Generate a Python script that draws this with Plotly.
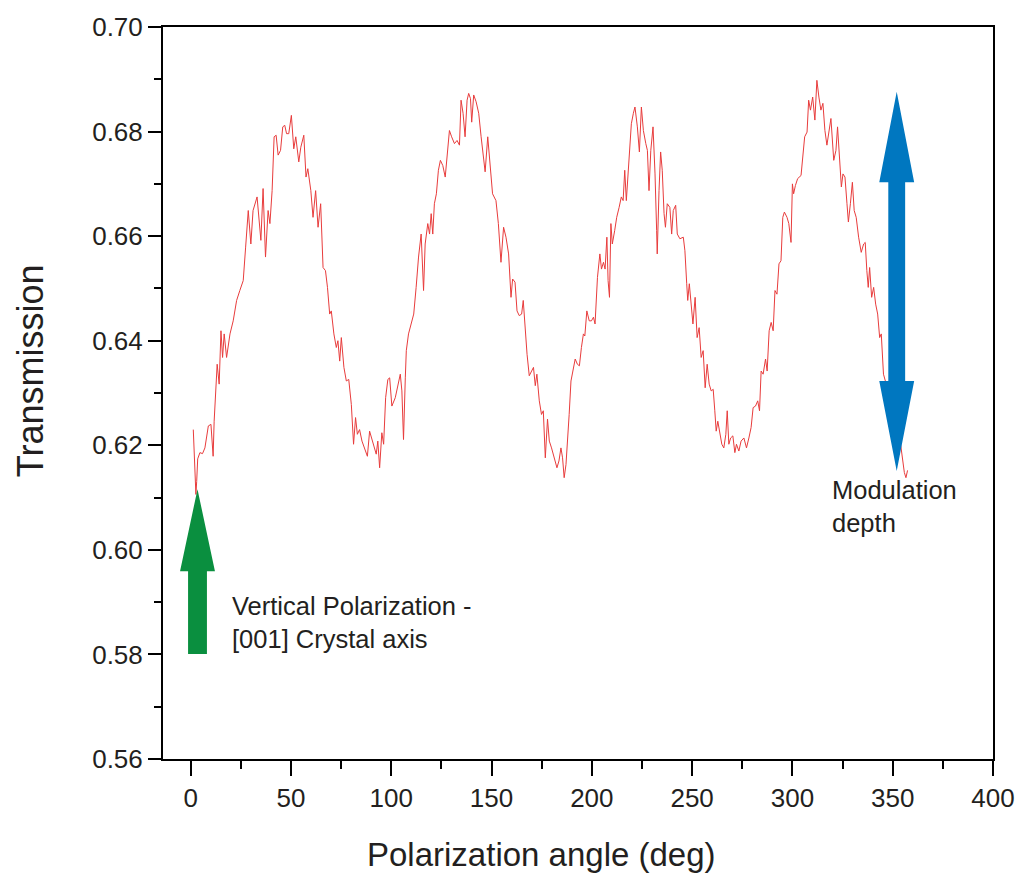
import plotly.graph_objects as go

# values
angle = [
    1.3, 1.9, 2.6, 3.0, 3.5, 4.6, 5.9, 7.1, 8.8, 10.1, 11.2, 11.7, 12.4, 13.2, 14.2,
    15.1, 15.9, 16.7, 17.9, 19.6, 21.2, 22.9, 24.5, 26.2, 27.4, 28.7, 30.0, 31.1,
    33.1, 35.0, 36.1, 37.3, 38.6, 39.5, 40.6, 41.6, 42.6, 43.6, 44.8, 45.9, 46.9,
    47.8, 48.9, 50.2, 51.4, 52.4, 53.9, 54.9, 56.4, 57.5, 58.4, 59.9,
    61.0, 62.3, 63.5, 64.8, 66.0, 67.2, 68.2, 69.3, 70.1, 71.4, 72.6, 73.4, 74.3,
    75.1, 76.4, 77.6, 78.8, 80.1, 81.2, 82.2, 83.1, 84.2, 85.4, 86.7, 88.1, 89.2,
    90.5, 91.7, 92.5, 93.3, 94.2, 95.3, 96.2, 97.2, 98.3, 99.2, 100.3, 102.0,
    103.3, 104.5, 105.3, 106.1, 107.0, 107.5, 108.6, 110.0, 111.2, 112.4, 113.6,
    114.9, 116.1, 116.9, 118.2, 119.1,
    119.9, 120.7, 121.5, 122.5, 123.5, 124.5, 125.7, 126.9, 127.9, 129.0, 130.1,
    131.5, 132.8, 134.0, 134.8, 135.8, 136.8, 137.8, 138.6, 139.5, 140.1, 141.1,
    142.3, 143.6, 144.8, 145.9, 146.8, 148.1, 149.3, 150.5, 152.2, 153.4, 154.7,
    156.0, 157.2, 158.5, 159.7, 160.5, 161.7, 162.7, 163.8, 165.0, 165.8, 166.7,
    167.7, 168.8, 170.0, 170.9, 171.8, 172.6, 173.8, 174.9, 175.8, 176.8, 177.9,
    178.8,
    179.9, 181.2, 182.6, 183.6, 184.6, 185.4, 186.2, 187.1, 187.9, 188.7, 189.6,
    190.3, 191.7, 192.8, 193.8, 194.8, 195.8, 196.5, 197.5, 198.7, 199.8, 200.8,
    201.6, 202.8, 204.0, 204.8, 205.8, 206.6, 207.5, 208.1, 208.8, 209.5, 210.2,
    211.4, 212.4, 213.6, 214.7, 215.6, 216.4, 217.2, 218.1, 218.9, 219.7, 220.7,
    221.5, 222.7, 223.7, 224.7, 225.7, 226.9, 227.7, 228.5, 229.4, 230.5, 231.5,
    232.3, 232.6, 233.5, 234.3, 235.1, 236.0, 236.7, 237.6,
    238.9, 239.8, 240.6, 241.8, 242.6, 243.9, 245.6, 246.4, 247.3, 247.8, 248.6,
    249.6, 250.4, 251.5, 252.5, 253.5, 254.5, 255.5, 256.5, 257.5, 258.5, 259.5,
    260.5, 261.3, 262.0, 262.8, 263.8, 264.8, 265.8, 266.8, 267.5, 268.3, 269.2,
    270.3, 271.3, 272.1, 273.3, 274.4, 275.8, 277.1, 278.3, 279.4, 280.4, 281.6,
    282.7, 283.6, 284.4, 285.4, 286.6, 287.4, 288.4, 289.4, 290.4, 291.3, 292.3,
    293.3, 294.3, 295.2, 296.0, 297.3, 298.2,
    299.3, 300.0, 300.6, 301.5, 302.6, 304.3, 305.3, 306.1, 307.3, 308.1, 309.0,
    310.1, 311.2, 312.2, 313.2, 314.2, 315.2, 316.2, 317.2, 318.2, 319.2, 320.6,
    321.7, 322.5, 323.4, 324.4, 325.2, 326.2, 327.2, 327.9, 328.9, 329.9, 330.8,
    331.8, 333.0, 334.3, 335.5, 336.3, 337.1, 337.8, 338.5, 339.5, 340.5, 341.5,
    342.5, 343.5, 344.3, 344.9, 345.4, 348.0, 351.0, 354.0, 355.8, 356.6, 357.4,
]

transmission = [
    0.6230, 0.6157, 0.6106, 0.6131, 0.6174, 0.6186, 0.6184, 0.6195, 0.6237, 0.6240,
    0.6179, 0.6246, 0.6291, 0.6355, 0.6317, 0.6419, 0.6368, 0.6413, 0.6368, 0.6413,
    0.6438, 0.6477, 0.6496, 0.6515, 0.6579, 0.6649, 0.6585, 0.6649, 0.6675, 0.6592,
    0.6691, 0.6560, 0.6649, 0.6624, 0.6687, 0.6790, 0.6793, 0.6755, 0.6764, 0.6809,
    0.6812, 0.6796, 0.6796, 0.6831, 0.6767, 0.6790, 0.6742, 0.6770, 0.6793, 0.6713,
    0.6729, 0.6687,
    0.6636, 0.6687, 0.6617, 0.6662, 0.6540, 0.6534, 0.6502, 0.6451, 0.6457, 0.6413,
    0.6387, 0.6400, 0.6361, 0.6406, 0.6349, 0.6323, 0.6326, 0.6278, 0.6202, 0.6253,
    0.6221, 0.6230, 0.6208, 0.6195, 0.6179, 0.6227, 0.6211, 0.6195, 0.6183, 0.6208,
    0.6157, 0.6224, 0.6202, 0.6291, 0.6326, 0.6329, 0.6275, 0.6291, 0.6317, 0.6336,
    0.6304, 0.6211, 0.6329, 0.6381, 0.6413, 0.6432, 0.6451, 0.6502, 0.6560, 0.6604,
    0.6496, 0.6585, 0.6624, 0.6604,
    0.6643, 0.6604, 0.6662, 0.6681, 0.6726, 0.6745, 0.6735, 0.6713, 0.6758, 0.6802,
    0.6790, 0.6777, 0.6783, 0.6774, 0.6860, 0.6835, 0.6790, 0.6860, 0.6873, 0.6863,
    0.6818, 0.6870, 0.6857, 0.6835, 0.6790, 0.6745, 0.6723, 0.6790, 0.6739, 0.6681,
    0.6668, 0.6624, 0.6550, 0.6617, 0.6598, 0.6566, 0.6483, 0.6518, 0.6512, 0.6457,
    0.6448, 0.6451, 0.6477, 0.6425, 0.6374, 0.6333, 0.6342, 0.6349, 0.6314, 0.6336,
    0.6285, 0.6259, 0.6266, 0.6176, 0.6250, 0.6208,
    0.6195, 0.6176, 0.6157, 0.6170, 0.6195, 0.6176, 0.6138, 0.6163, 0.6202, 0.6259,
    0.6323, 0.6336, 0.6365, 0.6355, 0.6352, 0.6387, 0.6413, 0.6409, 0.6457, 0.6438,
    0.6438, 0.6445, 0.6432, 0.6521, 0.6566, 0.6537, 0.6550, 0.6537, 0.6598, 0.6515,
    0.6483, 0.6624, 0.6585, 0.6611, 0.6636, 0.6655, 0.6675, 0.6668, 0.6726, 0.6668,
    0.6726, 0.6764, 0.6815, 0.6835, 0.6847, 0.6809, 0.6761, 0.6847, 0.6802, 0.6777,
    0.6764, 0.6687, 0.6764, 0.6809, 0.6719, 0.6611, 0.6566, 0.6687, 0.6761, 0.6726,
    0.6643, 0.6617, 0.6662,
    0.6655, 0.6604, 0.6649, 0.6659, 0.6604, 0.6595, 0.6598, 0.6572, 0.6509, 0.6477,
    0.6509, 0.6464, 0.6432, 0.6483, 0.6406, 0.6425, 0.6368, 0.6381, 0.6310, 0.6355,
    0.6317, 0.6304, 0.6307, 0.6266, 0.6227, 0.6246, 0.6221, 0.6202, 0.6195, 0.6221,
    0.6266, 0.6202, 0.6214, 0.6218, 0.6186, 0.6202, 0.6189, 0.6208, 0.6214, 0.6195,
    0.6214, 0.6234, 0.6272, 0.6275, 0.6285, 0.6266, 0.6342, 0.6336, 0.6365, 0.6342,
    0.6419, 0.6435, 0.6419, 0.6496, 0.6489, 0.6547, 0.6553, 0.6636, 0.6646, 0.6636,
    0.6624,
    0.6588, 0.6700, 0.6681, 0.6697, 0.6710, 0.6716, 0.6758, 0.6790, 0.6799, 0.6860,
    0.6841, 0.6866, 0.6822, 0.6898, 0.6866, 0.6841, 0.6854, 0.6802, 0.6774, 0.6802,
    0.6825, 0.6745, 0.6764, 0.6809, 0.6745, 0.6694, 0.6719, 0.6713, 0.6662, 0.6627,
    0.6662, 0.6703, 0.6649, 0.6636, 0.6598, 0.6569, 0.6585, 0.6588, 0.6534, 0.6502,
    0.6540, 0.6483, 0.6502, 0.6470, 0.6451, 0.6406, 0.6413, 0.6381, 0.6336, 0.6300,
    0.6250, 0.6200, 0.6148, 0.6138, 0.6152,
]

x_ticks = [0, 50, 100, 150, 200, 250, 300, 350, 400]
y_ticks = [0.56, 0.58, 0.60, 0.62, 0.64, 0.66, 0.68, 0.70]

FONT = "Liberation Sans, Arial, Helvetica, sans-serif"
INK = "#231f20"


def up_arrow(xc, y_tail, y_base, y_tip, shaft_hw, head_hw):
    """Closed SVG path of a single block arrow pointing up (data coords)."""
    pts = [
        (xc - shaft_hw, y_tail), (xc - shaft_hw, y_base), (xc - head_hw, y_base),
        (xc, y_tip), (xc + head_hw, y_base), (xc + shaft_hw, y_base),
        (xc + shaft_hw, y_tail),
    ]
    return "M " + " L ".join(f"{x},{y}" for x, y in pts) + " Z"


def double_arrow(xc, y_bot_tip, y_bot_base, y_top_base, y_top_tip, shaft_hw, head_hw):
    pts = [
        (xc, y_top_tip), (xc + head_hw, y_top_base), (xc + shaft_hw, y_top_base),
        (xc + shaft_hw, y_bot_base), (xc + head_hw, y_bot_base), (xc, y_bot_tip),
        (xc - head_hw, y_bot_base), (xc - shaft_hw, y_bot_base),
        (xc - shaft_hw, y_top_base), (xc - head_hw, y_top_base),
    ]
    return "M " + " L ".join(f"{x},{y}" for x, y in pts) + " Z"


fig = go.Figure()
fig.add_trace(go.Scatter(
    x=angle, y=transmission, mode="lines",
    line=dict(color="rgb(232,60,60)", width=1),
    showlegend=False, hoverinfo="skip",
))

fig.add_shape(type="path", xref="x", yref="y",
              path=up_arrow(3.4, 0.5801, 0.5959, 0.6116, 4.7, 8.7),
              fillcolor="#0a8f3f", line=dict(width=0))
fig.add_shape(type="path", xref="x", yref="y",
              path=double_arrow(352.0, 0.6151, 0.6323, 0.6703, 0.6876, 4.2, 8.7),
              fillcolor="#0077c0", line=dict(width=0))

fig.add_annotation(x=19.6, y=0.5862, xref="x", yref="y", xanchor="left", yanchor="middle",
                   text="Vertical Polarization -<br>[001] Crystal axis", align="left",
                   showarrow=False, font=dict(family=FONT, size=25.5, color=INK))
fig.add_annotation(x=318.5, y=0.6082, xref="x", yref="y", xanchor="left", yanchor="middle",
                   text="Modulation<br>depth", align="left",
                   showarrow=False, font=dict(family=FONT, size=25.5, color=INK))

# axis titles placed as annotations so their position can be tuned
fig.add_annotation(x=-0.160, y=0.53, xref="paper", yref="paper", xanchor="center", yanchor="middle",
                   text="Transmission", textangle=-90, showarrow=False,
                   font=dict(family=FONT, size=36, color=INK))
fig.add_annotation(x=0.4566, y=-0.131, xref="paper", yref="paper", xanchor="center", yanchor="middle",
                   text="Polarization angle (deg)", showarrow=False,
                   font=dict(family=FONT, size=33, color=INK))

axis_common = dict(
    showline=True, linecolor="black", linewidth=2, mirror=True,
    ticks="outside", tickcolor="black", tickwidth=2,
    showgrid=False, zeroline=False, automargin=False,
    tickfont=dict(family=FONT, size=26, color=INK),
)
fig.update_xaxes(range=[-13.8, 400], tickvals=x_ticks, ticklen=15,
                 ticklabeloverflow="allow",
                 minor=dict(dtick=25, tick0=25, ticks="outside", ticklen=8, tickwidth=2, tickcolor="black"),
                 **axis_common)
fig.update_yaxes(range=[0.56, 0.70], tickvals=y_ticks, tickformat=".2f", ticklen=13,
                 minor=dict(dtick=0.01, tick0=0.55, ticks="outside", ticklen=7, tickwidth=2, tickcolor="black"),
                 **axis_common)

fig.update_layout(
    width=1023, height=878,
    margin=dict(l=163, r=30, t=27, b=119),
    paper_bgcolor="white", plot_bgcolor="white",
    font=dict(family=FONT, color=INK),
)

# drop the browser's default 8px page margin so the figure sits at the window corner
fig.write_html("out.html", config={"displayModeBar": False},
               post_script="document.body.style.margin='0';")
